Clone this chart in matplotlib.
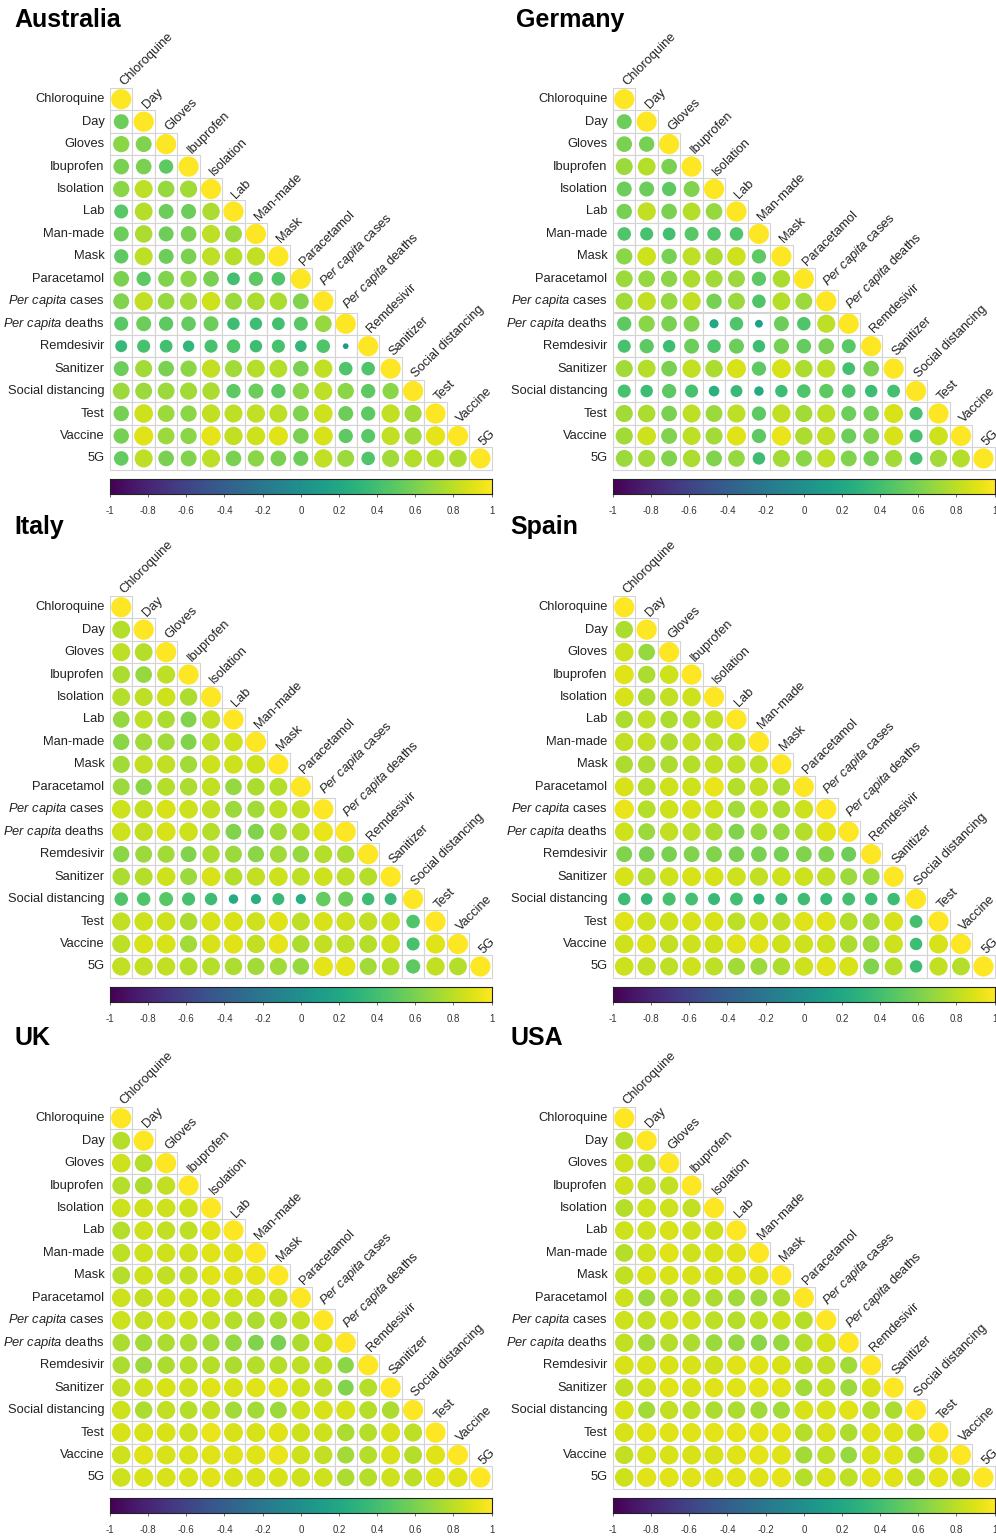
import numpy as np
import matplotlib
matplotlib.use("Agg")
import matplotlib.pyplot as plt
from matplotlib.patches import Rectangle, Circle

plt.rcParams["font.family"] = ["Liberation Sans", "DejaVu Sans"]
plt.rcParams["mathtext.fontset"] = "custom"
plt.rcParams["mathtext.rm"] = "Liberation Sans"
plt.rcParams["mathtext.it"] = "Liberation Sans:italic"

variables = ["Chloroquine", "Day", "Gloves", "Ibuprofen", "Isolation", "Lab",
             "Man-made", "Mask", "Paracetamol", r"$\it{Per\ capita}$ cases",
             r"$\it{Per\ capita}$ deaths", "Remdesivir", "Sanitizer",
             "Social distancing", "Test", "Vaccine", "5G"]
col_labels = ["Chloroquine", "Day", "Gloves", "Ibuprofen", "Isolation", "Lab",
              "Man-made", "Mask", "Paracetamol", r"$\it{Per\ capita}$ cases",
              r"$\it{Per\ capita}$ deaths", "Remdesivir", "Sanitizer",
              "Social distancing", "Test", "Vaccine", "5G"]

# lower triangle (below the diagonal), one row per variable from "Day" down
australia = [
    [0.55],
    [0.65, 0.62],
    [0.60, 0.60, 0.50],
    [0.65, 0.80, 0.68, 0.72],
    [0.48, 0.78, 0.55, 0.55, 0.75],
    [0.55, 0.75, 0.55, 0.60, 0.80, 0.70],
    [0.50, 0.80, 0.55, 0.60, 0.80, 0.78, 0.82],
    [0.60, 0.50, 0.62, 0.65, 0.60, 0.40, 0.50, 0.45],
    [0.62, 0.82, 0.68, 0.72, 0.85, 0.70, 0.75, 0.75, 0.62],
    [0.48, 0.55, 0.50, 0.52, 0.55, 0.38, 0.38, 0.40, 0.48, 0.68],
    [0.35, 0.42, 0.40, 0.32, 0.42, 0.45, 0.38, 0.42, 0.33, 0.45, 0.08],
    [0.55, 0.72, 0.60, 0.65, 0.82, 0.72, 0.78, 0.78, 0.60, 0.82, 0.45, 0.45],
    [0.70, 0.70, 0.70, 0.72, 0.75, 0.50, 0.55, 0.50, 0.65, 0.80, 0.65, 0.50, 0.65],
    [0.58, 0.85, 0.70, 0.65, 0.82, 0.80, 0.82, 0.80, 0.62, 0.85, 0.55, 0.50, 0.82, 0.72],
    [0.58, 0.90, 0.70, 0.65, 0.92, 0.82, 0.85, 0.90, 0.60, 0.88, 0.50, 0.48, 0.82, 0.72, 0.92],
    [0.52, 0.80, 0.60, 0.62, 0.80, 0.60, 0.65, 0.60, 0.55, 0.82, 0.70, 0.45, 0.72, 0.78, 0.78, 0.75],
]

germany = [
    [0.55],
    [0.60, 0.58],
    [0.70, 0.78, 0.60],
    [0.55, 0.55, 0.50, 0.62],
    [0.58, 0.82, 0.60, 0.78, 0.68],
    [0.45, 0.42, 0.40, 0.48, 0.45, 0.45],
    [0.65, 0.85, 0.58, 0.80, 0.75, 0.85, 0.50],
    [0.70, 0.68, 0.65, 0.75, 0.72, 0.70, 0.50, 0.75],
    [0.72, 0.82, 0.68, 0.82, 0.58, 0.70, 0.45, 0.78, 0.70],
    [0.50, 0.65, 0.60, 0.62, 0.20, 0.45, 0.15, 0.55, 0.45, 0.80],
    [0.42, 0.50, 0.38, 0.55, 0.45, 0.55, 0.38, 0.58, 0.52, 0.60, 0.48],
    [0.72, 0.78, 0.60, 0.82, 0.75, 0.88, 0.50, 0.88, 0.75, 0.80, 0.40, 0.60],
    [0.42, 0.38, 0.50, 0.42, 0.28, 0.35, 0.22, 0.38, 0.45, 0.50, 0.45, 0.38, 0.40],
    [0.72, 0.75, 0.60, 0.80, 0.70, 0.80, 0.50, 0.82, 0.72, 0.80, 0.55, 0.58, 0.88, 0.42],
    [0.72, 0.85, 0.62, 0.80, 0.72, 0.90, 0.50, 0.93, 0.75, 0.82, 0.55, 0.62, 0.88, 0.42, 0.85],
    [0.70, 0.72, 0.62, 0.75, 0.62, 0.68, 0.38, 0.72, 0.65, 0.80, 0.62, 0.58, 0.72, 0.40, 0.72, 0.78],
]

italy = [
    [0.78],
    [0.80, 0.78],
    [0.75, 0.68, 0.80],
    [0.78, 0.80, 0.85, 0.75],
    [0.68, 0.80, 0.75, 0.62, 0.82],
    [0.65, 0.72, 0.72, 0.62, 0.80, 0.85],
    [0.72, 0.82, 0.82, 0.72, 0.85, 0.85, 0.85],
    [0.70, 0.65, 0.78, 0.75, 0.82, 0.68, 0.75, 0.78],
    [0.85, 0.82, 0.88, 0.85, 0.82, 0.70, 0.72, 0.80, 0.82],
    [0.85, 0.82, 0.88, 0.85, 0.78, 0.62, 0.62, 0.72, 0.78, 0.93],
    [0.65, 0.70, 0.72, 0.62, 0.75, 0.70, 0.65, 0.72, 0.68, 0.78, 0.75],
    [0.75, 0.78, 0.85, 0.70, 0.88, 0.78, 0.82, 0.85, 0.80, 0.85, 0.80, 0.78],
    [0.45, 0.45, 0.48, 0.42, 0.38, 0.22, 0.25, 0.35, 0.25, 0.52, 0.55, 0.38, 0.35],
    [0.82, 0.85, 0.85, 0.75, 0.88, 0.88, 0.85, 0.90, 0.80, 0.88, 0.85, 0.82, 0.85, 0.45],
    [0.80, 0.88, 0.88, 0.72, 0.88, 0.90, 0.82, 0.92, 0.75, 0.82, 0.80, 0.78, 0.85, 0.42, 0.90],
    [0.82, 0.82, 0.82, 0.78, 0.78, 0.75, 0.72, 0.72, 0.68, 0.92, 0.92, 0.72, 0.78, 0.50, 0.82, 0.78],
]

spain = [
    [0.75],
    [0.85, 0.68],
    [0.90, 0.75, 0.85],
    [0.88, 0.75, 0.82, 0.85],
    [0.75, 0.80, 0.75, 0.78, 0.82],
    [0.82, 0.82, 0.75, 0.82, 0.80, 0.80],
    [0.75, 0.75, 0.75, 0.78, 0.82, 0.80, 0.80],
    [0.88, 0.78, 0.85, 0.85, 0.93, 0.78, 0.82, 0.75],
    [0.93, 0.78, 0.85, 0.88, 0.85, 0.72, 0.80, 0.75, 0.85],
    [0.85, 0.70, 0.82, 0.80, 0.75, 0.62, 0.68, 0.68, 0.78, 0.90],
    [0.62, 0.60, 0.60, 0.62, 0.62, 0.60, 0.60, 0.58, 0.62, 0.62, 0.55],
    [0.88, 0.78, 0.85, 0.88, 0.88, 0.85, 0.82, 0.85, 0.85, 0.82, 0.70, 0.70],
    [0.38, 0.33, 0.42, 0.40, 0.35, 0.40, 0.30, 0.35, 0.38, 0.35, 0.40, 0.38, 0.38],
    [0.90, 0.85, 0.85, 0.88, 0.88, 0.80, 0.85, 0.82, 0.90, 0.90, 0.78, 0.72, 0.88, 0.40],
    [0.85, 0.88, 0.82, 0.85, 0.85, 0.90, 0.90, 0.85, 0.85, 0.85, 0.75, 0.70, 0.85, 0.38, 0.88],
    [0.85, 0.82, 0.80, 0.85, 0.80, 0.72, 0.70, 0.75, 0.85, 0.90, 0.88, 0.62, 0.78, 0.38, 0.82, 0.78],
]

uk = [
    [0.78],
    [0.85, 0.78],
    [0.78, 0.75, 0.82],
    [0.85, 0.85, 0.85, 0.85],
    [0.78, 0.85, 0.82, 0.80, 0.90],
    [0.80, 0.85, 0.85, 0.85, 0.90, 0.90],
    [0.78, 0.85, 0.82, 0.82, 0.90, 0.90, 0.92],
    [0.85, 0.82, 0.85, 0.85, 0.85, 0.85, 0.85, 0.82],
    [0.85, 0.82, 0.85, 0.85, 0.82, 0.78, 0.75, 0.75, 0.82],
    [0.75, 0.72, 0.75, 0.75, 0.72, 0.68, 0.62, 0.60, 0.75, 0.85],
    [0.75, 0.70, 0.75, 0.78, 0.78, 0.75, 0.78, 0.78, 0.80, 0.80, 0.65],
    [0.82, 0.85, 0.88, 0.85, 0.90, 0.88, 0.90, 0.92, 0.85, 0.82, 0.62, 0.78],
    [0.85, 0.75, 0.82, 0.78, 0.82, 0.72, 0.72, 0.70, 0.85, 0.88, 0.88, 0.78, 0.75],
    [0.88, 0.88, 0.88, 0.85, 0.93, 0.88, 0.88, 0.90, 0.85, 0.85, 0.75, 0.78, 0.88, 0.80],
    [0.85, 0.90, 0.88, 0.88, 0.90, 0.90, 0.90, 0.93, 0.85, 0.82, 0.72, 0.78, 0.88, 0.78, 0.90],
    [0.85, 0.88, 0.88, 0.88, 0.90, 0.88, 0.88, 0.88, 0.85, 0.85, 0.75, 0.78, 0.85, 0.80, 0.90, 0.90],
]

usa = [
    [0.78],
    [0.85, 0.80],
    [0.85, 0.82, 0.82],
    [0.78, 0.85, 0.85, 0.82],
    [0.85, 0.85, 0.88, 0.85, 0.85],
    [0.78, 0.85, 0.90, 0.85, 0.88, 0.90],
    [0.82, 0.88, 0.88, 0.88, 0.88, 0.90, 0.90],
    [0.85, 0.70, 0.78, 0.78, 0.75, 0.72, 0.70, 0.75],
    [0.85, 0.82, 0.85, 0.85, 0.80, 0.78, 0.80, 0.85, 0.78],
    [0.82, 0.72, 0.78, 0.75, 0.70, 0.68, 0.65, 0.68, 0.78, 0.88],
    [0.88, 0.88, 0.88, 0.88, 0.85, 0.90, 0.90, 0.88, 0.80, 0.82, 0.72],
    [0.82, 0.85, 0.90, 0.88, 0.90, 0.90, 0.92, 0.90, 0.72, 0.82, 0.70, 0.88],
    [0.88, 0.72, 0.82, 0.80, 0.75, 0.75, 0.72, 0.72, 0.88, 0.88, 0.90, 0.78, 0.75],
    [0.88, 0.90, 0.90, 0.90, 0.92, 0.92, 0.92, 0.92, 0.78, 0.88, 0.75, 0.90, 0.90, 0.78],
    [0.82, 0.88, 0.88, 0.88, 0.88, 0.90, 0.92, 0.90, 0.72, 0.80, 0.68, 0.88, 0.90, 0.72, 0.92],
    [0.85, 0.90, 0.90, 0.90, 0.90, 0.90, 0.90, 0.92, 0.78, 0.88, 0.80, 0.90, 0.90, 0.78, 0.92, 0.85],
]

countries = ["Australia", "Germany", "Italy", "Spain", "UK", "USA"]
tri_data = [australia, germany, italy, spain, uk, usa]
cbar_ticks = [-1, -0.8, -0.6, -0.4, -0.2, 0, 0.2, 0.4, 0.6, 0.8, 1]

W, H = 996, 1536
fig = plt.figure(figsize=(W / 100, H / 100), dpi=100)
cmap = plt.get_cmap("viridis")

cell = 22.45
n = len(variables)
# grid top-left corner (px) and title position for each panel
grid_x = [110, 613, 110, 613, 110, 613]
grid_y = [88, 88, 596, 596, 1107, 1107]
title_x = [14, 516, 14, 510, 14, 510]
title_y = [20, 20, 527, 527, 1038, 1038]


def px_axes(x, y, w, h):
    return fig.add_axes([x / W, 1 - (y + h) / H, w / W, h / H])


def full_matrix(rows):
    m = np.eye(n)
    for i, row in enumerate(rows, start=1):
        for j, v in enumerate(row):
            m[i, j] = v
            m[j, i] = v
    return m


for k, name in enumerate(countries):
    corr = full_matrix(tri_data[k])
    x0, y0 = grid_x[k], grid_y[k]
    ax = px_axes(x0, y0, n * cell, n * cell)
    ax.set_xlim(0, n)
    ax.set_ylim(n, 0)
    ax.axis("off")

    for i in range(n):
        for j in range(i + 1):
            ax.add_patch(Rectangle((j, i), 1, 1, facecolor="white",
                                   edgecolor="#d4d4d4", lw=0.8, clip_on=False))
            v = corr[i, j]
            ax.add_patch(Circle((j + 0.5, i + 0.5), 0.45 * np.sqrt(abs(v)),
                                facecolor=cmap((v + 1) / 2), edgecolor="none",
                                clip_on=False, zorder=3))
        ax.text(-0.25, i + 0.5, variables[i], ha="right", va="center",
                fontsize=9.3, color="#222222")
        ax.text(i + 0.72, i + 0.02, col_labels[i], ha="left", va="bottom",
                rotation=45, rotation_mode="anchor", fontsize=9.3,
                color="#222222")

    fig.text(title_x[k] / W, 1 - title_y[k] / H, name, fontsize=18,
             fontweight="bold", ha="left", va="center", color="black")

    # colour legend under the matrix
    cax = px_axes(x0, y0 + n * cell + 9, n * cell, 15)
    grad = np.linspace(-1, 1, 256).reshape(1, -1)
    cax.imshow(grad, cmap=cmap, aspect="auto", extent=(-1, 1, 0, 1),
               vmin=-1, vmax=1)
    cax.set_xlim(-1, 1)
    cax.set_yticks([])
    cax.set_xticks(cbar_ticks)
    cax.set_xticklabels([f"{t:g}" for t in cbar_ticks])
    cax.tick_params(axis="x", length=2, width=0.6, labelsize=7,
                    labelcolor="#333333", color="#555555", pad=7)
    for s in cax.spines.values():
        s.set_linewidth(0.8)
        s.set_color("#222222")

fig.savefig("out.png", dpi=100)
